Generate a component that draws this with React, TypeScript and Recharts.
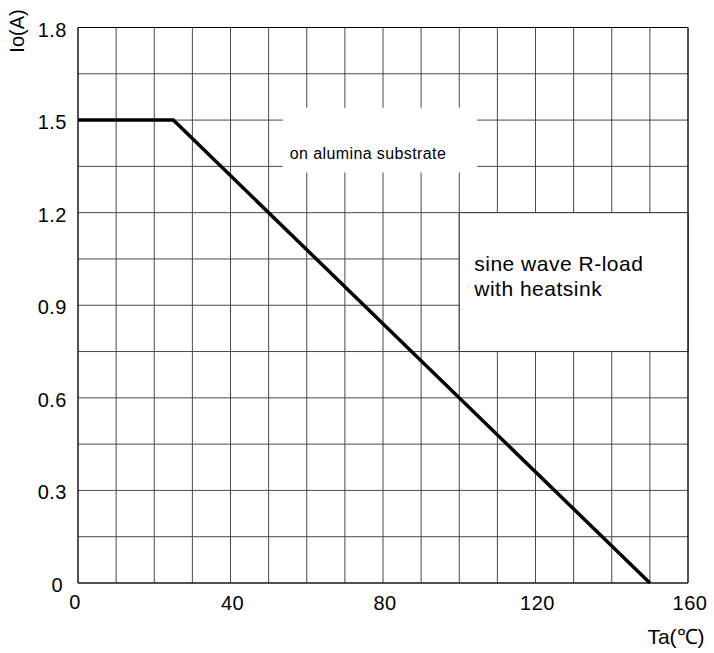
import React from 'react';
import { LineChart, Line, XAxis, YAxis, CartesianGrid, ReferenceArea, ReferenceLine } from 'recharts';

const tempC = [0, 25, 150];
const currentA = [1.5, 1.5, 0];
const xGridTicks = [0, 10, 20, 30, 40, 50, 60, 70, 80, 90, 100, 110, 120, 130, 140, 150, 160];
const xLabelTicks = [0, 40, 80, 120, 160];
const yGridTicks = [0, 0.15, 0.3, 0.45, 0.6, 0.75, 0.9, 1.05, 1.2, 1.35, 1.5, 1.65, 1.8];
const yLabelTicks = [0, 0.3, 0.6, 0.9, 1.2, 1.5, 1.8];
const note1 = 'on alumina substrate';
const note2Lines = ['sine wave R-load', 'with heatsink'];
const box1 = { x1: 53.7, x2: 104.7, y1: 1.33, y2: 1.54 };
const box2 = { x1: 100, x2: 160, y1: 0.75, y2: 1.2 };

const data = tempC.map((t, i) => ({ t, io: currentA[i] }));

const FONT = '"Liberation Sans", Arial, sans-serif';

const isLabel = (v: number, list: number[]) => list.some((l) => Math.abs(l - v) < 1e-6);

const XTick = (props: any) => {
  const { x, y, payload } = props;
  const v = payload.value;
  if (!isLabel(v, xLabelTicks)) return null;
  if (v === 0) {
    return (
      <text x={x - 3} y={y + 19} textAnchor="middle" dominantBaseline="central" fontSize={20} fontFamily={FONT} fill="#000" letterSpacing={0.5}>
        0
      </text>
    );
  }
  return (
    <text x={x + 2} y={y + 20} textAnchor="middle" dominantBaseline="central" fontSize={20} fontFamily={FONT} fill="#000" letterSpacing={0.5}>
      {String(v)}
    </text>
  );
};

const YTick = (props: any) => {
  const { x, y, payload } = props;
  const v = payload.value;
  if (!isLabel(v, yLabelTicks)) return null;
  if (v === 0) {
    return (
      <text x={x - 21} y={y + 2} textAnchor="middle" dominantBaseline="central" fontSize={20} fontFamily={FONT} fill="#000">
        0
      </text>
    );
  }
  return (
    <text x={x - 11} y={y + 2} textAnchor="end" dominantBaseline="central" fontSize={20} fontFamily={FONT} fill="#000" letterSpacing={0.5}>
      {v.toFixed(1)}
    </text>
  );
};

const Note1 = (props: any) => {
  const { viewBox } = props;
  return (
    <text x={viewBox.x + 7} y={viewBox.y + 46} dominantBaseline="central" fontSize={16} fontFamily={FONT} fill="#000" letterSpacing={0.4}>
      {note1}
    </text>
  );
};

const Note2 = (props: any) => {
  const { viewBox } = props;
  return (
    <text x={viewBox.x + 15} y={viewBox.y + 50} dominantBaseline="central" fontSize={21} fontFamily={FONT} fill="#000" letterSpacing={0.5}>
      {note2Lines.map((l, i) => (
        <tspan key={i} x={viewBox.x + 15} dy={i === 0 ? 0 : 25}>
          {l}
        </tspan>
      ))}
    </text>
  );
};

export default function App() {
  return (
    <div style={{ position: 'absolute', left: 0, top: 0, background: '#fff' }}>
      <LineChart width={714} height={653} data={data} margin={{ top: 27.5, right: 26, bottom: 0, left: 0 }}>
        <CartesianGrid stroke="#4a4a4a" strokeWidth={1} />
        <XAxis
          dataKey="t"
          type="number"
          domain={[0, 160]}
          ticks={xGridTicks}
          interval={0}
          tick={<XTick />}
          tickLine={false}
          tickSize={0}
          tickMargin={0}
          axisLine={{ stroke: '#000', strokeWidth: 1 }}
          height={70}
        />
        <YAxis
          type="number"
          domain={[0, 1.8]}
          ticks={yGridTicks}
          interval={0}
          tick={<YTick />}
          tickLine={false}
          tickSize={0}
          tickMargin={0}
          axisLine={{ stroke: '#000', strokeWidth: 1 }}
          width={78}
        />
        <ReferenceLine x={160} stroke="#000" strokeWidth={1} />
        <ReferenceLine y={1.8} stroke="#000" strokeWidth={1} />
        <ReferenceArea {...box1} fill="#fff" fillOpacity={1} stroke="none" label={<Note1 />} ifOverflow="visible" />
        <ReferenceArea {...box2} fill="#fff" fillOpacity={1} stroke="#333" strokeWidth={1} label={<Note2 />} ifOverflow="visible" />
        <Line dataKey="io" type="linear" stroke="#000" strokeWidth={3.5} dot={false} isAnimationActive={false} />
      </LineChart>
      <svg style={{ position: 'absolute', left: 0, top: 0, pointerEvents: 'none' }} width={714} height={653}>
        <text transform="translate(24,31) rotate(-90)" textAnchor="middle" fontSize={20} fontFamily={FONT} fill="#000">
          Io(A)
        </text>
        <text x={676} y={644} textAnchor="middle" fontSize={21} fontFamily={FONT} fill="#000">
          Ta(℃)
        </text>
      </svg>
    </div>
  );
}
